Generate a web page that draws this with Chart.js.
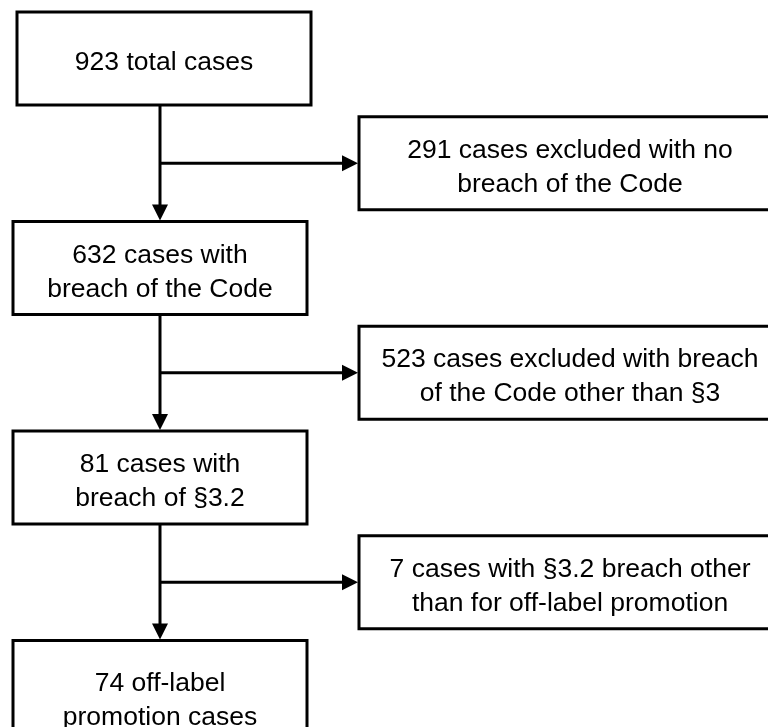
<!DOCTYPE html>
<html>
<head>
<meta charset="utf-8">
<script src="https://cdn.jsdelivr.net/npm/chart.js@4.4.7/dist/chart.umd.min.js"></script>
<style>
  html, body { margin: 0; padding: 0; background: #fff; }
  #wrap { width: 768px; height: 727px; position: relative; }
</style>
</head>
<body>
<div id="wrap"><canvas id="flow"></canvas></div>
<script>
// ---- Data: case counts at each stage ----
const stageCounts = [923, 632, 81, 74];
const stageText = [
  ["{n} total cases"],
  ["{n} cases with", "breach of the Code"],
  ["{n} cases with", "breach of §3.2"],
  ["{n} off-label", "promotion cases"]
];
const excludedCounts = [291, 523, 7];
const excludedText = [
  ["{n} cases excluded with no", "breach of the Code"],
  ["{n} cases excluded with breach", "of the Code other than §3"],
  ["{n} cases with §3.2 breach other", "than for off-label promotion"]
];

// ---- Layout (in scale units, 1 unit = 1px) ----
const LAYOUT = {
  width: 768,
  height: 727,
  rowTop: 12,
  rowStep: 209.5,
  boxH: 93,
  lastBoxH: 112,
  leftX: 13,
  leftW: 294,
  firstShift: 4,
  trunkX: 160,
  rightX: 359,
  rightW: 422,
  lineH: 34,
  textDrop: 11.5,
  arrowLen: 16,
  arrowHalf: 8
};

const STYLE = {
  stroke: "#000",
  text: "#000",
  lineWidth: 3,
  font: '26.5px "Liberation Sans", Arial, sans-serif'
};

function fillLines(lines, n) {
  return lines.map(function (s) { return s.replace("{n}", n); });
}

const flowPlugin = {
  id: "flowchart",
  afterDraw: function (chart) {
    var ctx = chart.ctx;
    var xs = chart.scales.x, ys = chart.scales.y;
    var px = function (v) { return xs.getPixelForValue(v); };
    var py = function (v) { return ys.getPixelForValue(v); };
    var L = LAYOUT;

    ctx.save();
    ctx.strokeStyle = STYLE.stroke;
    ctx.fillStyle = STYLE.stroke;
    ctx.lineWidth = STYLE.lineWidth;
    ctx.lineJoin = "miter";

    function box(x0, y0, w, h, lines) {
      ctx.strokeRect(px(x0), py(y0), px(x0 + w) - px(x0), py(y0 + h) - py(y0));
      ctx.save();
      ctx.fillStyle = STYLE.text;
      ctx.font = STYLE.font;
      ctx.textAlign = "center";
      ctx.textBaseline = "alphabetic";
      var cx = x0 + w / 2;
      var mid = y0 + h / 2 + L.textDrop;
      var first = mid - (lines.length - 1) * L.lineH / 2;
      lines.forEach(function (s, i) {
        ctx.fillText(s, px(cx), py(first + i * L.lineH));
      });
      ctx.restore();
    }

    function line(x0, y0, x1, y1) {
      ctx.beginPath();
      ctx.moveTo(px(x0), py(y0));
      ctx.lineTo(px(x1), py(y1));
      ctx.stroke();
    }

    function arrowDown(x0, tipY) {
      ctx.beginPath();
      ctx.moveTo(px(x0), py(tipY));
      ctx.lineTo(px(x0 - L.arrowHalf), py(tipY - L.arrowLen));
      ctx.lineTo(px(x0 + L.arrowHalf), py(tipY - L.arrowLen));
      ctx.closePath();
      ctx.fill();
    }

    function arrowRight(tipX, y0) {
      ctx.beginPath();
      ctx.moveTo(px(tipX), py(y0));
      ctx.lineTo(px(tipX - L.arrowLen), py(y0 - L.arrowHalf));
      ctx.lineTo(px(tipX - L.arrowLen), py(y0 + L.arrowHalf));
      ctx.closePath();
      ctx.fill();
    }

    // main column
    stageCounts.forEach(function (n, i) {
      var top = L.rowTop + i * L.rowStep;
      var shift = i === 0 ? L.firstShift : 0;
      var h = i === stageCounts.length - 1 ? L.lastBoxH : L.boxH;
      box(L.leftX + shift, top, L.leftW, h, fillLines(stageText[i], n));
    });

    // connectors + exclusion boxes
    excludedCounts.forEach(function (n, i) {
      var top = L.rowTop + i * L.rowStep;
      var bottom = top + L.boxH;
      var nextTop = top + L.rowStep;
      var branchY = bottom + (L.rowStep - L.boxH) / 2;

      line(L.trunkX, bottom, L.trunkX, nextTop - L.arrowLen + 1);
      arrowDown(L.trunkX, nextTop - 1);

      line(L.trunkX, branchY, L.rightX - L.arrowLen + 1, branchY);
      arrowRight(L.rightX - 1, branchY);

      box(L.rightX, branchY - L.boxH / 2, L.rightW, L.boxH, fillLines(excludedText[i], n));
    });

    ctx.restore();
  }
};

var chart = new Chart(document.getElementById("flow"), {
  type: "scatter",
  data: { datasets: [] },
  options: {
    responsive: true,
    maintainAspectRatio: false,
    animation: false,
    events: [],
    layout: { padding: 0 },
    plugins: { legend: { display: false }, tooltip: { enabled: false } },
    scales: {
      x: { type: "linear", display: false, min: 0, max: LAYOUT.width },
      y: { type: "linear", display: false, min: 0, max: LAYOUT.height, reverse: true }
    }
  },
  plugins: [flowPlugin]
});
</script>
</body>
</html>
